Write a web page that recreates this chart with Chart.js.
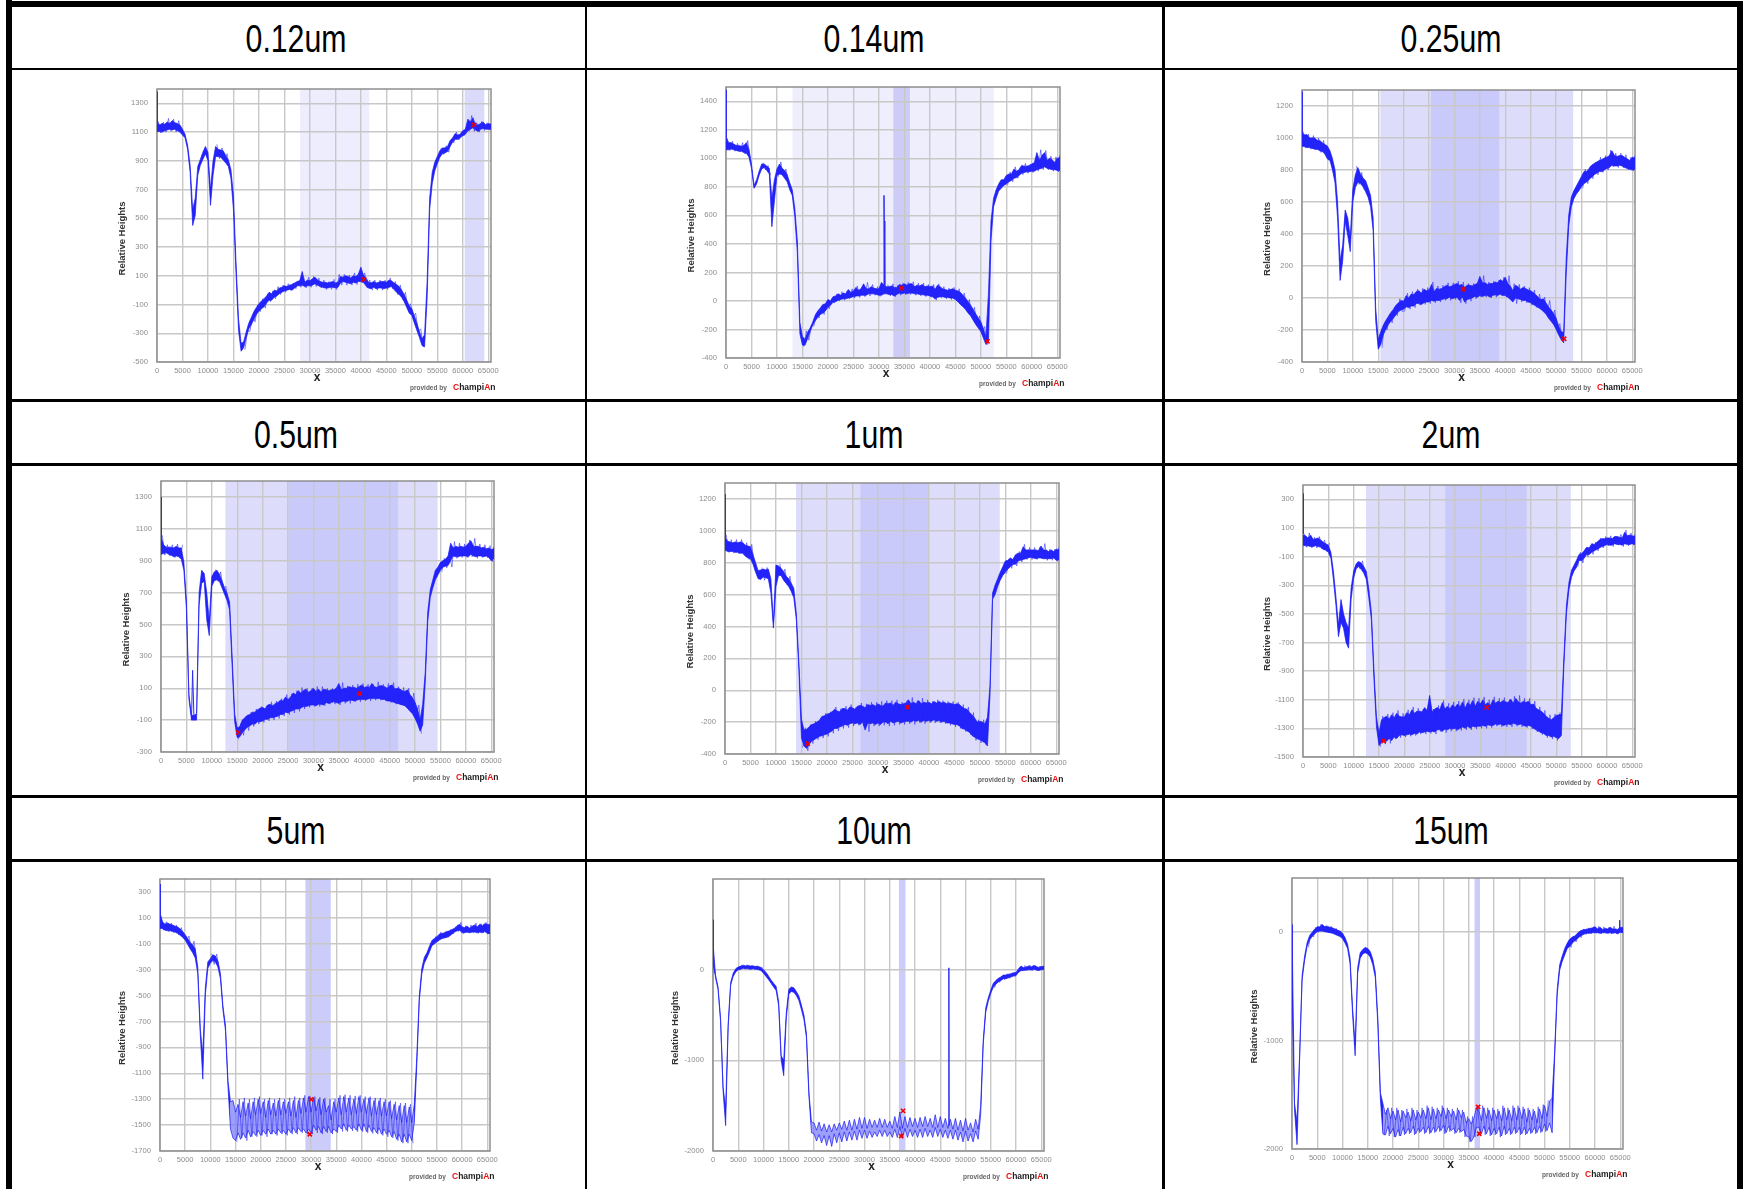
<!DOCTYPE html>
<html><head><meta charset="utf-8">
<style>
html,body{margin:0;padding:0;background:#fff;width:1748px;height:1189px;overflow:hidden}
.rule{position:absolute;background:#000}
.head{position:absolute;transform:translateX(-50%) scaleX(0.775);font-family:"Liberation Sans",sans-serif;font-size:39px;line-height:44px;color:#000;white-space:nowrap}
canvas{position:absolute;filter:blur(0.55px)}
</style>
<script src="https://cdn.jsdelivr.net/npm/chart.js@4/dist/chart.umd.js"></script>
</head><body>
<script>
const titles = ['0.12um','0.14um','0.25um','0.5um','1um','2um','5um','10um','15um'];
const xTicks = [0,5000,10000,15000,20000,25000,30000,35000,40000,45000,50000,55000,60000,65000];
const xValues = [
0,500,1000,1500,2000,2500,3000,3500,4000,4500,
5000,5500,6000,6500,7000,7500,8000,8500,9000,9500,
10000,10500,11000,11500,12000,12500,13000,13500,14000,14500,
15000,15500,16000,16500,17000,17500,18000,18500,19000,19500,
20000,20500,21000,21500,22000,22500,23000,23500,24000,24500,
25000,25500,26000,26500,27000,27500,28000,28500,29000,29500,
30000,30500,31000,31500,32000,32500,33000,33500,34000,34500,
35000,35500,36000,36500,37000,37500,38000,38500,39000,39500,
40000,40500,41000,41500,42000,42500,43000,43500,44000,44500,
45000,45500,46000,46500,47000,47500,48000,48500,49000,49500,
50000,50500,51000,51500,52000,52500,53000,53500,54000,54500,
55000,55500,56000,56500,57000,57500,58000,58500,59000,59500,
60000,60500,61000,61500,62000,62500,63000,63500,64000,64500,
65000,65536];
const xHairs = [
250,750,1250,1750,2250,2750,3250,3750,4250,4750,
5250,5750,6250,6750,7250,7750,8250,8750,9250,9750,
10250,10750,11250,11750,12250,12750,13250,13750,14250,14750,
15250,15750,16250,16750,17250,17750,18250,18750,19250,19750,
20250,20750,21250,21750,22250,22750,23250,23750,24250,24750,
25250,25750,26250,26750,27250,27750,28250,28750,29250,29750,
30250,30750,31250,31750,32250,32750,33250,33750,34250,34750,
35250,35750,36250,36750,37250,37750,38250,38750,39250,39750,
40250,40750,41250,41750,42250,42750,43250,43750,44250,44750,
45250,45750,46250,46750,47250,47750,48250,48750,49250,49750,
50250,50750,51250,51750,52250,52750,53250,53750,54250,54750,
55250,55750,56250,56750,57250,57750,58250,58750,59250,59750,
60250,60750,61250,61750,62250,62750,63250,63750,64250,64750,
65250,65450];

const hi012 = [
1170,1150,1160,1155,1170,1160,1180,1165,1160,1150,
1120,1085,1010,870,560,640,860,910,960,1000,
960,700,900,1000,980,975,970,935,905,840,
660,200,-200,-370,-360,-290,-230,-190,-150,-120,
-95,-75,-60,-40,-15,-25,0,-5,15,20,
30,25,35,40,50,60,65,130,55,70,
65,80,90,70,60,55,55,50,55,60,
50,55,95,90,100,95,85,100,95,110,
160,105,85,55,50,60,50,55,60,60,
55,70,65,50,40,25,0,-30,-70,-110,
-130,-180,-230,-290,-340,-310,60,640,820,890,
930,970,990,990,1000,1040,1060,1090,1080,1085,
1110,1120,1190,1170,1200,1150,1150,1160,1170,1150,
1160,1155];
const lo012 = [
1105,1105,1100,1110,1115,1120,1115,1120,1110,1100,
1080,1060,980,820,450,520,800,870,910,950,
900,590,800,930,930,925,905,885,860,780,
560,120,-280,-425,-400,-330,-270,-240,-205,-170,
-145,-130,-115,-90,-70,-70,-50,-40,-25,-15,
-5,0,5,0,15,30,30,35,25,30,
30,35,45,35,25,20,15,15,20,20,
15,20,50,60,55,50,45,55,50,60,
60,55,30,15,10,20,10,15,15,10,
15,20,25,5,-15,-30,-50,-80,-120,-160,
-175,-230,-280,-330,-385,-395,-60,560,740,830,
880,925,950,955,965,1000,1030,1050,1050,1060,
1075,1085,1110,1120,1130,1115,1105,1120,1125,1120,
1120,1120];
const hairs012 = [
1175,1095,1170,1100,1195,1105,1190,1100,1180,1090,
1095,null,null,null,null,null,null,null,null,null,
null,null,null,1015,915,990,895,950,845,null,
null,null,null,null,-415,-290,-285,-180,-220,-105,
-150,-60,-125,-25,-80,-5,-60,25,-30,35,
-15,45,0,50,10,65,20,80,15,90,
20,95,25,85,15,70,5,60,5,75,
5,110,35,110,35,105,35,120,40,125,
50,120,15,70,0,70,0,70,0,70,
5,85,10,60,-30,35,-65,-15,-135,-95,
-190,-160,-290,-270,-395,null,null,null,null,null,
915,985,945,1005,960,1050,1025,1100,1045,1100,
1075,1130,1105,1215,1105,1165,1100,1175,1110,1165,
1115,1155];
const spikeX012 = [0,60];
const spikeY012 = [1380,1150];
const markX012 = [40600,62200];
const markY012 = [75,1150];
const yTicks012 = [-500,-300,-100,100,300,500,700,900,1100,1300];
const yRange012 = [-500,1400];
const lightBand012 = [28080,41630];
const darkBand012 = [60370,64220];

const hi014 = [
1150,1110,1110,1100,1090,1090,1085,1090,1110,1060,
960,810,850,910,960,960,945,930,720,850,
925,960,930,915,885,830,780,650,420,-150,
-250,-270,-220,-190,-150,-100,-70,-50,-25,-20,
10,0,30,35,50,40,55,50,80,60,
70,95,75,85,120,85,85,100,90,85,
85,130,110,100,100,105,95,95,115,110,
120,110,120,120,100,110,105,115,100,105,
100,105,80,110,100,85,80,75,80,85,
75,70,60,40,20,-5,-30,-60,-90,-120,
-145,-195,-255,50,560,720,780,820,850,850,
880,890,890,925,910,920,950,945,945,950,
960,970,1040,985,1020,1040,985,1000,990,970,
1000,1005];
const lo014 = [
1060,1060,1065,1060,1055,1050,1050,1040,1035,1010,
930,790,820,880,925,935,915,890,520,700,
880,890,885,860,835,780,740,590,340,-230,
-310,-310,-265,-215,-170,-140,-115,-95,-85,-70,
-45,-30,-10,-5,5,10,15,15,20,25,
30,35,35,40,40,40,50,50,50,45,
40,40,50,50,45,45,35,45,55,50,
55,50,55,55,50,50,45,45,40,40,
35,30,15,25,30,30,25,25,20,20,
10,-5,-25,-40,-60,-85,-105,-135,-165,-190,
-215,-260,-305,-290,420,660,720,770,790,810,
820,835,845,860,865,880,895,900,905,905,
910,910,920,925,930,940,930,925,920,920,
915,915];
const hairs014 = [
1140,1055,1120,1050,1105,1045,1110,1030,1125,1000,
null,null,null,null,970,920,950,880,null,null,
870,975,875,925,825,null,null,null,null,null,
-320,-210,-275,-175,-175,-85,-120,-35,-95,-5,
-55,15,-15,50,0,65,5,70,15,85,
20,105,25,100,30,130,35,115,40,100,
30,null,null,115,35,120,30,110,40,125,
45,130,45,135,40,125,35,125,30,115,
25,115,5,120,20,100,15,90,10,95,
0,85,-35,55,-70,10,-115,-45,-175,-105,
-225,-180,-310,null,null,null,null,null,null,null,
810,905,835,940,860,935,885,965,895,960,
900,985,910,1060,920,1055,920,1015,910,1010,
905,1020];
const spikeX014 = [0,60,60,30900,31000,31060,31160];
const spikeY014 = [1480,1120,null,70,740,560,90];
const markX014 = [34400,51300];
const markY014 = [90,-283];
const yTicks014 = [-400,-200,0,200,400,600,800,1000,1200,1400];
const yRange014 = [-400,1500];
const lightBand014 = [13040,52540];
const darkBand014 = [32830,36090];

const hi025 = [
1030,1020,1020,1000,1000,1000,985,985,970,960,
950,920,870,800,600,230,330,550,500,380,
680,770,815,775,750,735,690,640,500,-60,
-260,-210,-170,-140,-115,-90,-70,-45,-30,-15,
-20,15,0,25,20,40,45,30,55,45,
50,85,40,60,55,60,70,80,70,75,
85,90,80,85,65,80,80,75,85,90,
135,95,95,85,90,90,100,95,115,105,
130,90,75,45,80,70,55,65,60,50,
45,35,20,5,-10,-5,-30,-55,-75,-95,
-125,-175,-210,-215,250,520,630,670,700,730,
760,790,790,810,830,840,850,860,865,875,
880,890,920,890,885,890,890,880,870,860,
880,875];
const lo025 = [
950,945,940,940,935,930,930,920,915,900,
870,860,800,720,500,110,230,480,390,290,
600,690,725,715,695,665,630,570,420,-140,
-320,-290,-230,-195,-165,-145,-125,-105,-85,-75,
-70,-55,-60,-50,-50,-35,-35,-40,-30,-25,
-25,-15,-20,-15,-15,-10,-5,-5,5,-5,
0,5,-15,10,-25,-10,-5,0,10,5,
15,10,15,15,5,15,20,15,25,15,
15,5,-10,-25,0,-5,-10,-15,-15,-25,
-30,-40,-50,-60,-70,-85,-100,-125,-145,-165,
-195,-230,-260,-280,150,450,570,620,650,670,
695,715,725,740,755,770,780,790,790,800,
810,815,830,825,825,830,825,815,810,805,
800,805];
const hairs025 = [
1040,940,1025,930,1015,925,1000,910,985,890,
860,null,null,null,null,null,null,null,null,null,
null,825,710,785,680,700,null,null,null,null,
null,-310,-155,-200,-100,-155,-55,-110,-5,-85,
-80,30,-70,40,-60,55,-45,60,-40,65,
-35,100,-30,75,-25,80,-15,95,-15,95,
-10,105,-30,100,-35,90,-20,90,-5,105,
5,140,5,100,0,105,5,110,15,130,
5,140,-15,90,-35,85,-25,75,-30,65,
-45,50,-60,25,-75,5,-95,-15,-135,-75,
-205,-160,-270,null,null,null,null,null,null,null,
685,805,715,825,745,850,770,880,785,890,
800,925,820,905,815,905,815,895,800,880,
795,890];
const spikeX025 = [0,60];
const spikeY025 = [1290,1030];
const markX025 = [31730,51590];
const markY025 = [55,-255];
const yTicks025 = [-400,-200,0,200,400,600,800,1000,1200];
const yRange025 = [-400,1300];
const lightBand025 = [15420,53360];
const darkBand025 = [25390,38820];

const hi05 = [
1050,1000,985,985,985,980,990,980,980,890,
650,60,-70,-70,-60,700,840,820,700,520,
800,830,840,815,775,730,695,640,300,-60,
-150,-140,-100,-85,-70,-65,-50,-50,-35,-25,
-20,-30,-5,0,-10,5,10,25,20,45,
30,45,70,60,85,70,85,95,75,85,
100,80,95,75,95,90,85,90,90,100,
130,90,100,100,110,105,105,100,110,120,
105,110,105,130,110,105,115,115,110,100,
115,120,95,100,95,85,80,90,60,40,
10,-30,-100,0,200,580,720,780,840,860,
890,900,910,930,1010,980,990,985,990,985,
990,1010,1025,990,990,990,980,985,975,980,
970,975];
const lo05 = [
940,945,950,940,935,925,930,925,910,840,
600,30,-100,-100,-100,620,760,770,530,430,
740,775,780,770,730,690,650,590,240,-110,
-210,-205,-180,-160,-145,-135,-125,-125,-110,-110,
-105,-95,-95,-85,-85,-80,-75,-65,-65,-50,
-55,-45,-40,-30,-30,-25,-15,-15,-10,-5,
-5,-10,0,0,-5,10,5,10,15,10,
5,15,20,15,25,25,20,25,30,30,
30,30,35,35,35,35,35,30,30,20,
20,15,10,5,0,-5,-10,-25,-45,-60,
-90,-125,-170,-130,130,520,670,730,780,810,
840,860,865,870,900,930,925,925,930,930,
930,925,940,930,925,930,930,925,930,920,
900,915];
const hairs05 = [
1060,935,1000,930,1000,920,1005,915,1000,null,
null,null,null,null,null,null,null,null,null,null,
null,845,770,830,720,740,640,null,null,null,
-220,-120,-195,-75,-165,-50,-140,-30,-125,-15,
-115,-10,-105,15,-100,20,-90,35,-75,60,
-65,65,-55,85,-45,105,-30,100,-20,100,
-15,110,-15,110,-10,100,0,100,0,110,
-5,135,5,115,5,120,15,125,15,130,
20,125,20,125,25,140,25,125,20,130,
10,135,0,110,-5,105,-15,100,-40,70,
-70,-5,-185,null,null,null,null,null,null,null,
830,915,855,945,860,1020,915,1010,920,1005,
920,1030,925,1040,915,1005,920,1000,920,995,
895,985];
const spikeX05 = [0,60,60,6000,6220,6500];
const spikeY05 = [1300,1040,null,-100,212,-100];
const markX05 = [15190,39110];
const markY05 = [-177,66];
const yTicks05 = [-300,-100,100,300,500,700,900,1100,1300];
const yRange05 = [-300,1400];
const lightBand05 = [12670,54440];
const darkBand05 = [25040,46670];

const hi1 = [
960,935,930,925,930,925,930,925,910,905,
900,850,800,750,755,760,755,760,700,430,
785,780,765,745,715,700,670,640,480,170,
-180,-250,-245,-230,-215,-210,-200,-190,-165,-160,
-150,-145,-135,-120,-130,-135,-115,-115,-125,-105,
-110,-120,-100,-95,-100,-110,-90,-95,-90,-100,
-85,-95,-100,-80,-85,-80,-95,-75,-85,-90,
-85,-80,-60,-85,-75,-85,-65,-85,-75,-80,
-75,-85,-70,-80,-70,-80,-75,-85,-80,-85,
-90,-85,-90,-105,-115,-120,-140,-155,-175,-200,
-195,-200,-210,-170,30,610,660,700,740,775,
810,815,830,820,850,860,860,900,880,880,
880,880,880,875,905,880,880,870,880,870,
885,880];
const lo1 = [
880,870,870,870,865,865,860,860,840,830,
825,790,740,700,695,710,705,700,610,390,
650,720,720,690,670,650,620,580,440,130,
-300,-350,-365,-340,-320,-310,-300,-290,-285,-280,
-275,-265,-255,-240,-240,-230,-225,-215,-220,-210,
-205,-210,-205,-215,-200,-250,-205,-210,-205,-215,
-205,-215,-200,-200,-210,-195,-205,-200,-195,-205,
-200,-195,-195,-200,-190,-195,-190,-200,-190,-195,
-190,-195,-185,-195,-190,-200,-195,-205,-205,-210,
-215,-215,-225,-240,-245,-255,-265,-285,-295,-305,
-310,-320,-330,-350,-30,570,600,650,690,720,
740,760,775,790,790,810,815,820,825,830,
835,830,825,830,830,825,825,825,825,830,
815,820];
const hairs1 = [
975,865,945,860,945,855,945,850,925,820,
915,780,null,null,770,690,770,695,null,null,
null,795,710,760,660,715,610,null,null,null,
-360,-235,-380,-215,-335,-195,-310,-175,-300,-145,
-290,-135,-270,-105,-255,-115,-240,-100,-235,-90,
-225,-105,-220,-80,-225,-85,-260,-75,-225,-75,
-225,-70,-220,-65,-225,-65,-220,-60,-215,-75,
-215,-65,-210,-45,-215,-65,-205,-50,-210,-60,
-205,-70,-205,-60,-205,-65,-210,-70,-220,-70,
-230,-75,-240,-90,-260,-105,-280,-140,-315,-185,
-330,-185,-345,null,null,null,null,null,null,null,
730,825,765,835,780,870,805,915,820,895,
820,895,820,895,825,920,815,885,815,885,
810,895];
const spikeX1 = [0,60];
const spikeY1 = [1230,950];
const markX1 = [16260,35780];
const markY1 = [-335,-106];
const yTicks1 = [-400,-200,0,200,400,600,800,1000,1200];
const yRange1 = [-400,1300];
const lightBand1 = [13930,53920];
const darkBand1 = [26560,39910];

const hi2 = [
50,45,30,50,20,25,30,15,0,-10,
-20,-70,-200,-380,-580,-400,-500,-560,-600,-320,
-200,-150,-135,-145,-170,-205,-330,-490,-890,-1220,
-1330,-1240,-1225,-1215,-1235,-1205,-1225,-1195,-1215,-1220,
-1220,-1190,-1205,-1170,-1195,-1180,-1180,-1185,-1155,-1175,
-1070,-1185,-1165,-1155,-1170,-1120,-1165,-1145,-1165,-1135,
-1155,-1130,-1150,-1115,-1160,-1120,-1140,-1105,-1145,-1110,
-1130,-1100,-1135,-1120,-1140,-1100,-1125,-1110,-1120,-1105,
-1115,-1120,-1095,-1125,-1090,-1115,-1125,-1110,-1120,-1110,
-1135,-1130,-1160,-1170,-1180,-1195,-1215,-1230,-1240,-1225,
-1210,-1205,-1200,-800,-440,-280,-195,-160,-125,-85,
-80,-60,-35,-40,-10,-15,0,15,25,25,
30,30,25,40,40,35,30,70,45,50,
45,40];
const lo2 = [
-20,-25,-25,-30,-30,-25,-30,-35,-50,-55,
-70,-110,-260,-440,-660,-560,-600,-700,-740,-400,
-250,-185,-170,-190,-215,-260,-390,-540,-950,-1290,
-1420,-1400,-1385,-1390,-1370,-1385,-1360,-1370,-1350,-1345,
-1350,-1345,-1340,-1345,-1335,-1340,-1325,-1330,-1325,-1320,
-1325,-1320,-1325,-1310,-1310,-1320,-1305,-1310,-1300,-1305,
-1300,-1310,-1300,-1290,-1300,-1285,-1300,-1285,-1290,-1285,
-1285,-1280,-1285,-1275,-1280,-1280,-1270,-1275,-1270,-1280,
-1275,-1270,-1275,-1265,-1270,-1275,-1270,-1280,-1285,-1280,
-1285,-1300,-1310,-1320,-1330,-1335,-1350,-1350,-1360,-1355,
-1365,-1370,-1350,-860,-500,-330,-245,-200,-175,-125,
-130,-110,-85,-85,-70,-60,-50,-40,-30,-25,
-15,-20,-20,-10,-15,-15,-20,-10,-15,-15,
-10,-15];
const hairs2 = [
60,-35,65,-40,35,-40,40,-45,15,-65,
-5,null,null,null,null,null,null,null,null,null,
null,-135,-185,-130,-230,null,null,null,null,null,
-1430,-1215,-1410,-1200,-1405,-1190,-1375,-1175,-1365,-1195,
-1360,-1170,-1355,-1150,-1350,-1160,-1340,-1165,-1340,-1140,
-1335,-1165,-1340,-1140,-1325,-1105,-1330,-1125,-1320,-1115,
-1320,-1110,-1315,-1095,-1310,-1100,-1310,-1085,-1305,-1090,
-1300,-1080,-1300,-1100,-1295,-1080,-1285,-1090,-1290,-1085,
-1290,-1100,-1290,-1075,-1285,-1070,-1290,-1090,-1295,-1090,
-1305,-1110,-1325,-1150,-1345,-1175,-1365,-1205,-1375,-1200,
-1385,-1185,null,null,null,null,null,null,-170,-70,
-145,-45,-100,-25,-85,0,-60,30,-40,40,
-25,45,-30,40,-20,55,-30,85,-25,65,
-20,55];
const spikeX2 = [0,60];
const spikeY2 = [340,60];
const markX2 = [15930,36260];
const markY2 = [-1388,-1154];
const yTicks2 = [-1500,-1300,-1100,-900,-700,-500,-300,-100,100,300];
const yRange2 = [-1500,400];
const lightBand2 = [12440,52870];
const darkBand2 = [28070,44160];

const hi5 = [
140,70,50,60,50,45,35,30,15,-5,
-30,-60,-90,-110,-140,-280,-760,-950,-440,-240,
-215,-185,-195,-235,-330,-580,-730,-1160,-1320,-1310,
-1400,-1340,-1440,-1320,-1430,-1330,-1450,-1320,-1420,-1300,
-1410,-1320,-1440,-1310,-1420,-1330,-1430,-1310,-1420,-1320,
-1410,-1320,-1430,-1310,-1440,-1310,-1410,-1290,-1400,-1280,
-1400,-1290,-1390,-1300,-1420,-1300,-1400,-1350,-1460,-1320,
-1400,-1290,-1420,-1280,-1400,-1290,-1420,-1300,-1410,-1280,
-1400,-1300,-1410,-1290,-1430,-1310,-1420,-1310,-1430,-1320,
-1430,-1320,-1450,-1340,-1460,-1350,-1480,-1350,-1480,-1360,
-1480,-1340,-970,-500,-290,-205,-170,-120,-75,-60,
-45,-25,-20,-15,-5,0,10,20,40,50,
30,25,35,20,35,45,30,50,40,55,
50,45];
const lo5 = [
20,15,5,0,0,-5,-10,-20,-35,-50,
-70,-105,-140,-170,-210,-330,-800,-1145,-500,-290,
-250,-230,-240,-280,-370,-610,-770,-1200,-1530,-1600,
-1620,-1560,-1610,-1560,-1600,-1540,-1590,-1550,-1580,-1540,
-1580,-1540,-1570,-1530,-1570,-1540,-1570,-1530,-1560,-1540,
-1570,-1530,-1560,-1520,-1560,-1520,-1550,-1530,-1560,-1530,
-1560,-1500,-1540,-1510,-1560,-1510,-1550,-1510,-1560,-1530,
-1550,-1500,-1530,-1490,-1540,-1500,-1530,-1510,-1540,-1490,
-1540,-1490,-1550,-1500,-1550,-1520,-1560,-1520,-1570,-1530,
-1570,-1540,-1590,-1550,-1610,-1570,-1630,-1570,-1630,-1570,
-1620,-1480,-1030,-540,-330,-250,-210,-165,-115,-100,
-85,-70,-60,-55,-50,-40,-25,-10,0,5,
-15,-15,-10,-15,-10,-10,-15,-10,-15,-5,
-20,-20];
const hairs5 = [
90,5,70,-5,60,-15,45,-30,25,-60,
-80,-40,-150,-80,-220,null,null,null,null,null,
-175,-260,-180,-290,null,null,null,null,null,null,
-1630,-1300,-1600,-1290,-1620,-1300,-1590,-1290,-1590,-1280,
-1580,-1300,-1590,-1290,-1570,-1300,-1580,-1290,-1570,-1300,
-1580,-1290,-1570,-1280,-1570,-1290,-1560,-1270,-1570,-1275,
-1570,-1280,-1560,-1285,-1570,-1290,-1560,-1300,-1570,-1300,
-1560,-1270,-1550,-1265,-1550,-1270,-1545,-1275,-1550,-1270,
-1550,-1280,-1560,-1280,-1565,-1290,-1570,-1290,-1580,-1300,
-1590,-1310,-1600,-1320,-1620,-1330,-1640,-1330,-1640,-1340,
-1640,null,null,null,null,null,null,null,-105,-45,
-80,-10,-55,-5,-50,10,-25,30,-5,65,
-20,40,-15,45,-15,60,-20,55,-15,65,
-25,55];
const spikeX5 = [0,60];
const spikeY5 = [360,120];
const markX5 = [30040,29750];
const markY5 = [-1301,-1571];
const yTicks5 = [-1700,-1500,-1300,-1100,-900,-700,-500,-300,-100,100,300];
const yRange5 = [-1700,400];
const lightBand5 = [28920,33860];
const darkBand5 = [28920,33860];

const hi10 = [
300,-60,-190,-540,-1300,-1520,-600,-140,-40,10,
30,40,50,40,45,40,40,35,35,25,
0,-30,-70,-115,-150,-185,-350,-950,-1000,-480,
-220,-190,-200,-240,-290,-390,-500,-700,-1360,-1680,
-1690,-1770,-1680,-1780,-1700,-1790,-1710,-1790,-1700,-1770,
-1690,-1760,-1670,-1770,-1660,-1770,-1650,-1760,-1630,-1750,
-1630,-1750,-1650,-1740,-1660,-1740,-1640,-1740,-1650,-1740,
-1670,-1750,-1620,-1740,-1570,-1750,-1620,-1740,-1630,-1730,
-1640,-1740,-1630,-1730,-1620,-1730,-1640,-1740,-1600,-1740,
-1620,-1740,-1640,-1750,-1650,-1760,-1640,-1770,-1660,-1780,
-1640,-1770,-1690,-1790,-1650,-1760,-1500,-780,-420,-310,
-225,-150,-120,-95,-80,-60,-60,-50,-45,-35,
-30,10,40,20,30,40,30,45,35,25,
35,35];
const lo10 = [
100,-90,-220,-570,-1340,-1720,-640,-170,-75,-25,
0,5,15,10,10,5,10,5,0,-10,
-40,-75,-110,-150,-190,-230,-400,-1000,-1170,-540,
-270,-240,-250,-285,-340,-440,-550,-750,-1400,-1800,
-1810,-1890,-1820,-1910,-1830,-1940,-1830,-1950,-1810,-1910,
-1800,-1900,-1790,-1890,-1790,-1880,-1780,-1880,-1770,-1860,
-1770,-1860,-1780,-1850,-1790,-1840,-1770,-1840,-1770,-1840,
-1790,-1850,-1760,-1850,-1730,-1860,-1750,-1850,-1760,-1840,
-1770,-1850,-1760,-1850,-1750,-1840,-1770,-1850,-1740,-1840,
-1760,-1850,-1770,-1860,-1770,-1870,-1770,-1880,-1790,-1900,
-1780,-1890,-1810,-1900,-1780,-1870,-1600,-830,-470,-350,
-260,-195,-160,-135,-120,-100,-100,-90,-80,-70,
-65,-30,-10,-10,-5,0,-5,5,-5,-10,
0,5];
const hairs10 = [
null,null,null,null,null,null,null,null,null,25,
-5,45,5,55,0,50,0,45,-5,30,
null,null,null,null,null,null,null,null,null,null,
null,null,null,null,null,null,null,null,null,null,
null,null,null,null,null,null,null,null,null,null,
null,null,null,null,null,null,null,null,null,null,
null,null,null,null,null,null,null,null,null,null,
null,null,null,null,null,null,null,null,null,null,
null,null,null,null,null,null,null,null,null,null,
null,null,null,null,null,null,null,null,null,null,
null,null,null,null,null,null,null,null,null,null,
null,-200,-110,-140,-70,-110,-45,-95,-35,-75,
-25,25,-15,45,-10,50,-10,50,-10,40,
-5,45];
const spikeX10 = [0,100,300,300,46650,46700,46760];
const spikeY10 = [550,60,-40,null,-1720,20,-1720];
const markX10 = [37630,37260];
const markY10 = [-1558,-1834];
const yTicks10 = [-2000,-1000,0];
const yRange10 = [-2000,1000];
const lightBand10 = [36820,38070];
const darkBand10 = [36820,38070];

const hi15 = [
60,-1580,-1750,-1140,-400,-220,-95,-30,0,30,
50,50,70,50,55,45,40,30,20,10,
-10,-50,-110,-240,-700,-1040,-330,-190,-160,-140,
-150,-180,-250,-370,-800,-1480,-1580,-1680,-1620,-1720,
-1650,-1730,-1640,-1750,-1650,-1710,-1660,-1740,-1640,-1730,
-1660,-1710,-1640,-1720,-1620,-1730,-1630,-1720,-1640,-1700,
-1620,-1720,-1640,-1700,-1650,-1730,-1640,-1710,-1660,-1760,
-1720,-1770,-1720,-1620,-1640,-1740,-1620,-1720,-1640,-1740,
-1640,-1720,-1650,-1740,-1620,-1730,-1640,-1740,-1620,-1730,
-1620,-1720,-1630,-1750,-1640,-1730,-1650,-1760,-1630,-1720,
-1600,-1700,-1560,-1530,-1100,-530,-300,-220,-150,-100,
-65,-45,-35,-10,10,20,25,30,35,40,
50,30,45,25,35,30,45,30,30,25,
45,40];
const lo15 = [
-560,-1640,-1960,-1180,-440,-260,-130,-70,-40,-15,
5,10,10,5,0,-5,-10,-20,-30,-40,
-60,-100,-150,-290,-760,-1140,-380,-240,-200,-190,
-200,-230,-300,-420,-860,-1540,-1860,-1870,-1790,-1860,
-1810,-1890,-1820,-1880,-1800,-1860,-1810,-1850,-1790,-1860,
-1810,-1840,-1800,-1850,-1790,-1850,-1800,-1840,-1790,-1830,
-1780,-1850,-1790,-1830,-1810,-1850,-1810,-1840,-1820,-1880,
-1890,-1930,-1890,-1800,-1800,-1860,-1790,-1860,-1800,-1870,
-1810,-1860,-1800,-1880,-1790,-1860,-1810,-1860,-1800,-1850,
-1800,-1860,-1800,-1860,-1810,-1850,-1800,-1850,-1790,-1840,
-1770,-1830,-1760,-1850,-1160,-580,-350,-270,-210,-150,
-130,-100,-80,-60,-40,-25,-15,-10,-10,-5,
-5,-5,-10,-5,-5,-10,-5,-10,-5,-15,
0,-5];
const hairs15 = [
null,null,null,null,null,null,-140,-15,-45,45,
0,75,5,60,-5,55,-15,35,-35,15,
null,null,null,null,null,null,null,null,null,null,
null,null,null,null,null,null,-1875,-1640,-1880,-1620,
-1890,-1620,-1880,-1640,-1870,-1630,-1860,-1620,-1870,-1640,
-1850,-1620,-1860,-1600,-1860,-1610,-1850,-1620,-1840,-1600,
-1860,-1620,-1840,-1630,-1860,-1620,-1850,-1640,-1890,-1700,
-1935,-1700,-1890,-1610,-1870,-1600,-1870,-1620,-1880,-1620,
-1870,-1630,-1890,-1600,-1870,-1620,-1870,-1600,-1860,-1600,
-1870,-1610,-1870,-1620,-1860,-1630,-1860,-1610,-1850,-1590,
-1840,-1550,null,null,null,null,null,null,null,-70,
-140,-35,-90,-5,-50,30,-20,40,-15,50,
-10,55,-15,50,-10,45,-15,55,-15,40,
-5,50];
const spikeX15 = [0,20,20,64840,64860,64890];
const spikeY15 = [70,-560,null,10,110,10];
const markX15 = [36850,37070];
const markY15 = [-1613,-1859];
const yTicks15 = [-2000,-1000,0];
const yRange15 = [-2000,500];
const lightBand15 = [36180,37220];
const darkBand15 = [36180,37220];

const hiAll = [hi012,hi014,hi025,hi05,hi1,hi2,hi5,hi10,hi15];
const loAll = [lo012,lo014,lo025,lo05,lo1,lo2,lo5,lo10,lo15];
const hairsAll = [hairs012,hairs014,hairs025,hairs05,hairs1,hairs2,hairs5,hairs10,hairs15];
const spikeXAll = [spikeX012,spikeX014,spikeX025,spikeX05,spikeX1,spikeX2,spikeX5,spikeX10,spikeX15];
const spikeYAll = [spikeY012,spikeY014,spikeY025,spikeY05,spikeY1,spikeY2,spikeY5,spikeY10,spikeY15];
const markXAll = [markX012,markX014,markX025,markX05,markX1,markX2,markX5,markX10,markX15];
const markYAll = [markY012,markY014,markY025,markY05,markY1,markY2,markY5,markY10,markY15];
const yTicksAll = [yTicks012,yTicks014,yTicks025,yTicks05,yTicks1,yTicks2,yTicks5,yTicks10,yTicks15];
const yRangeAll = [yRange012,yRange014,yRange025,yRange05,yRange1,yRange2,yRange5,yRange10,yRange15];
const lightAll = [lightBand012,lightBand014,lightBand025,lightBand05,lightBand1,lightBand2,lightBand5,lightBand10,lightBand15];
const darkAll = [darkBand012,darkBand014,darkBand025,darkBand05,darkBand1,darkBand2,darkBand5,darkBand10,darkBand15];
/* stretch of each trace where the ribbon between the envelopes is pale */
const paleZone = [null,null,null,null,null,null,[14000,50500],[19500,53000],[18000,51500]];

/* layout: plot rectangles [left, top, right, bottom] */
const plotBoxes = [[157,89,491,362],[726,87,1060,358],[1302,90,1635,362],[161,481,494,752],[725,483,1059,754],[1303,485,1635,757],[160,879,490,1151],[713,879,1044,1151],[1292,878,1623,1149]];
const yTitleGap = [35,35,35,35,35,36,38,38,38];
const headCenters = [[296,39],[874,39],[1451,39],[296,435],[874,435],[1451,435],[296,831],[874,831],[1451,831]];
const lightColors = ['#ededfd','#eeeefd','#ddddfb','#ddddfb','#ddddfb','#ddddfb','#ccccfa','#ccccfa','#ccccfa'];
const darkColors = ['#dadafa','#ccccf7','#cacafa','#cacafa','#cacafa','#cacafa','#ccccfa','#ccccfa','#ccccfa'];
const SOLID = '#2222fa', PALE = 'rgba(125,125,250,.75)';
const rules = [[6,1,1737,6],[6,0,6,1189],[1737,1,6,1188],[584.7,1,2.6,1188],[1162,1,2.6,1188],
 [6,67.5,1737,2.5],[6,399,1737,2.5],[6,463,1737,2.5],[6,795,1737,2.5],[6,859,1737,2.5]];

rules.forEach(r=>{const d=document.createElement('div');d.className='rule';
 d.style.cssText=`left:${r[0]}px;top:${r[1]}px;width:${r[2]}px;height:${r[3]}px`;document.body.appendChild(d);});

const PAD = {left:50,right:20,top:6,bottom:36};

const shadePlugin = {id:'shade',
 beforeDraw(chart,args,o){
  const {ctx,chartArea:a,scales:{x}}=chart;ctx.save();
  o.spans.forEach(s=>{ctx.fillStyle=s.color;
   const l=x.getPixelForValue(s.range[0]),r=x.getPixelForValue(s.range[1]);
   ctx.fillRect(l,a.top,r-l,a.bottom-a.top);});
  ctx.restore();},
 beforeDatasetsDraw(chart){
  const {ctx,chartArea:a}=chart;ctx.save();ctx.strokeStyle='#8f8f8f';ctx.lineWidth=1.5;
  ctx.strokeRect(a.left,a.top,a.right-a.left,a.bottom-a.top);ctx.restore();},
 afterDraw(chart,args,o){
  const {ctx,chartArea:a}=chart;ctx.save();ctx.textBaseline='middle';
  ctx.fillStyle='#222';ctx.font='bold 12px "Liberation Sans"';ctx.textAlign='center';
  ctx.fillText('x',(a.left+a.right)/2-7,a.bottom+16);
  ctx.save();ctx.translate(a.left-o.gap,(a.top+a.bottom)/2+13);ctx.rotate(-Math.PI/2);
  ctx.font='bold 9.5px "Liberation Sans"';ctx.fillStyle='#333';ctx.fillText('Relative Heights',0,0);ctx.restore();
  ctx.textAlign='left';ctx.font='bold 6.5px "Liberation Sans"';ctx.fillStyle='#666';
  ctx.fillText('provided by',a.right-81,a.bottom+26);
  let cx=a.right-38;ctx.font='bold 8.5px "Liberation Sans"';
  [['C','#f01010'],['hampi','#222'],['A','#f01010'],['n','#222']].forEach(p=>{ctx.fillStyle=p[1];ctx.fillText(p[0],cx,a.bottom+26);cx+=ctx.measureText(p[0]).width;});
  ctx.restore();}
};

function ribbonFill(zone){
 return c=>{
  const ch=c.chart;
  if(!zone||!ch.chartArea||!ch.scales.x) return SOLID;
  const a=ch.chartArea,w=a.right-a.left;
  const g=ch.ctx.createLinearGradient(a.left,0,a.right,0);
  const p0=(ch.scales.x.getPixelForValue(zone[0])-a.left)/w,p1=(ch.scales.x.getPixelForValue(zone[1])-a.left)/w;
  g.addColorStop(0,SOLID);g.addColorStop(p0,SOLID);g.addColorStop(p0,PALE);
  g.addColorStop(p1,PALE);g.addColorStop(p1,SOLID);g.addColorStop(1,SOLID);
  return g;};
}

titles.forEach((t,i)=>{
 const c=headCenters[i];const h=document.createElement('div');h.className='head';h.textContent=t;
 h.style.left=c[0]+'px';h.style.top=(c[1]-22)+'px';document.body.appendChild(h);
 const b=plotBoxes[i];
 const cv=document.createElement('canvas');
 const W=b[2]-b[0]+PAD.left+PAD.right,H=b[3]-b[1]+PAD.top+PAD.bottom;
 cv.width=W;cv.height=H;cv.style.left=(b[0]-PAD.left)+'px';cv.style.top=(b[1]-PAD.top)+'px';
 cv.style.width=W+'px';cv.style.height=H+'px';document.body.appendChild(cv);
 const pts=(xs,ys)=>xs.map((x,k)=>({x,y:ys[k]}));
 new Chart(cv,{type:'line',
  data:{datasets:[
   {label:'peaks',data:pts(markXAll[i],markYAll[i]),showLine:false,pointStyle:'crossRot',pointRadius:3,pointBorderWidth:1.6,pointBorderColor:'#f00000',pointBackgroundColor:'#f00000'},
   {label:'spikes',data:pts(spikeXAll[i],spikeYAll[i]),borderColor:'#2a2af5',borderWidth:1,pointRadius:0,spanGaps:false},
   {label:'hairs',data:pts(xHairs,hairsAll[i]),borderColor:'rgba(40,40,250,.8)',borderWidth:0.7,pointRadius:0,spanGaps:false},
   {label:'upper',data:pts(xValues,hiAll[i]),borderColor:'#1a1af5',borderWidth:0.7,pointRadius:0,fill:false},
   {label:'lower',data:pts(xValues,loAll[i]),borderColor:'#1a1af5',borderWidth:0.7,pointRadius:0,fill:'-1',backgroundColor:ribbonFill(paleZone[i])}
  ]},
  plugins:[shadePlugin],
  options:{responsive:false,animation:false,events:[],
   layout:{padding:{left:0,right:PAD.right,top:PAD.top,bottom:0}},
   plugins:{legend:{display:false},tooltip:{enabled:false},title:{display:false},
    shade:{gap:yTitleGap[i],spans:[{range:lightAll[i],color:lightColors[i]},{range:darkAll[i],color:darkColors[i]}]}},
   scales:{
    x:{type:'linear',min:0,max:65536,
     afterBuildTicks:s=>{s.ticks=xTicks.map(value=>({value}));},
     afterFit:s=>{s.height=PAD.bottom;s.paddingLeft=0;s.paddingRight=0;},
     grid:{color:'#c8c8c8',lineWidth:1.4,drawTicks:false},border:{display:false},
     ticks:{autoSkip:false,maxRotation:0,padding:4,color:'#8c8c8c',font:{size:7.5,family:'"Liberation Sans"'},callback:v=>String(v)}},
    y:{type:'linear',min:yRangeAll[i][0],max:yRangeAll[i][1],
     afterBuildTicks:s=>{s.ticks=yTicksAll[i].map(value=>({value}));},
     afterFit:s=>{s.width=PAD.left;s.paddingTop=0;s.paddingBottom=0;},
     grid:{color:'#c8c8c8',lineWidth:1.4,drawTicks:false},border:{display:false},
     ticks:{autoSkip:false,padding:9,color:'#8c8c8c',font:{size:7.6,family:'"Liberation Sans"'},callback:v=>String(v)}}
   }}});
});
</script>
</body></html>
